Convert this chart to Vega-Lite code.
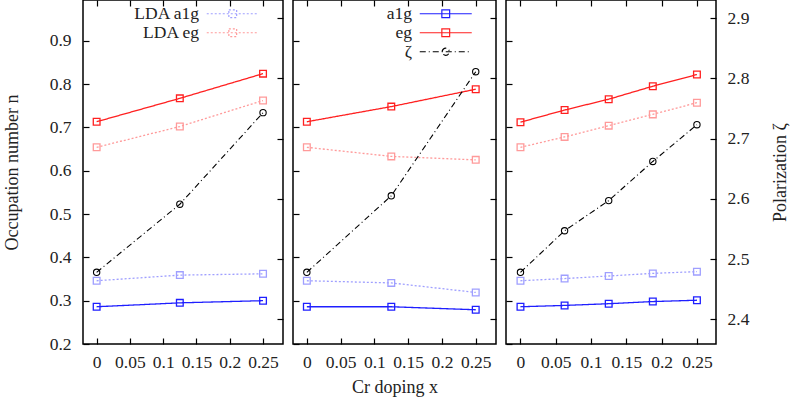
{
"$schema": "https://vega.github.io/schema/vega-lite/v6.json",
"padding": {"left": 2, "top": -2, "right": 2, "bottom": 0},
"bounds": "flush",
"datasets": {
"n": [
{"panel":1,"series":"a1g","x":0,"n":0.286},{"panel":1,"series":"a1g","x":0.125,"n":0.295},{"panel":1,"series":"a1g","x":0.25,"n":0.300},
{"panel":1,"series":"eg","x":0,"n":0.713},{"panel":1,"series":"eg","x":0.125,"n":0.767},{"panel":1,"series":"eg","x":0.25,"n":0.824},
{"panel":1,"series":"LDA a1g","x":0,"n":0.346},{"panel":1,"series":"LDA a1g","x":0.125,"n":0.359},{"panel":1,"series":"LDA a1g","x":0.25,"n":0.362},
{"panel":1,"series":"LDA eg","x":0,"n":0.654},{"panel":1,"series":"LDA eg","x":0.125,"n":0.702},{"panel":1,"series":"LDA eg","x":0.25,"n":0.762},
{"panel":2,"series":"a1g","x":0,"n":0.286},{"panel":2,"series":"a1g","x":0.125,"n":0.286},{"panel":2,"series":"a1g","x":0.25,"n":0.279},
{"panel":2,"series":"eg","x":0,"n":0.713},{"panel":2,"series":"eg","x":0.125,"n":0.748},{"panel":2,"series":"eg","x":0.25,"n":0.788},
{"panel":2,"series":"LDA a1g","x":0,"n":0.346},{"panel":2,"series":"LDA a1g","x":0.125,"n":0.341},{"panel":2,"series":"LDA a1g","x":0.25,"n":0.319},
{"panel":2,"series":"LDA eg","x":0,"n":0.654},{"panel":2,"series":"LDA eg","x":0.125,"n":0.633},{"panel":2,"series":"LDA eg","x":0.25,"n":0.625},
{"panel":3,"series":"a1g","x":0,"n":0.286},{"panel":3,"series":"a1g","x":0.0625,"n":0.289},{"panel":3,"series":"a1g","x":0.125,"n":0.293},{"panel":3,"series":"a1g","x":0.1875,"n":0.298},{"panel":3,"series":"a1g","x":0.25,"n":0.301},
{"panel":3,"series":"eg","x":0,"n":0.712},{"panel":3,"series":"eg","x":0.0625,"n":0.740},{"panel":3,"series":"eg","x":0.125,"n":0.765},{"panel":3,"series":"eg","x":0.1875,"n":0.795},{"panel":3,"series":"eg","x":0.25,"n":0.822},
{"panel":3,"series":"LDA a1g","x":0,"n":0.346},{"panel":3,"series":"LDA a1g","x":0.0625,"n":0.351},{"panel":3,"series":"LDA a1g","x":0.125,"n":0.357},{"panel":3,"series":"LDA a1g","x":0.1875,"n":0.363},{"panel":3,"series":"LDA a1g","x":0.25,"n":0.367},
{"panel":3,"series":"LDA eg","x":0,"n":0.654},{"panel":3,"series":"LDA eg","x":0.0625,"n":0.678},{"panel":3,"series":"LDA eg","x":0.125,"n":0.704},{"panel":3,"series":"LDA eg","x":0.1875,"n":0.730},{"panel":3,"series":"LDA eg","x":0.25,"n":0.757}
],
"z": [
{"panel":1,"series":"ζ","x":0,"zeta":2.478},{"panel":1,"series":"ζ","x":0.125,"zeta":2.591},{"panel":1,"series":"ζ","x":0.25,"zeta":2.743},
{"panel":2,"series":"ζ","x":0,"zeta":2.478},{"panel":2,"series":"ζ","x":0.125,"zeta":2.605},{"panel":2,"series":"ζ","x":0.25,"zeta":2.811},
{"panel":3,"series":"ζ","x":0,"zeta":2.478},{"panel":3,"series":"ζ","x":0.0625,"zeta":2.547},{"panel":3,"series":"ζ","x":0.125,"zeta":2.597},{"panel":3,"series":"ζ","x":0.1875,"zeta":2.662},{"panel":3,"series":"ζ","x":0.25,"zeta":2.723}
]
},
"config": {
"font": "Liberation Serif",
"view": {"stroke": "#000000", "strokeWidth": 1.5},
"axis": {"domain": false, "grid": false, "tickColor": "#000000", "tickWidth": 1.2, "tickSize": -6, "labelFont": "Liberation Serif", "labelFontSize": 17.5, "labelColor": "#222222", "titleFont": "Liberation Serif", "titleFontSize": 18, "titleFontWeight": "normal", "titleColor": "#222222"},
"legend": {"labelFont": "Liberation Serif", "labelFontSize": 17.5, "labelColor": "#222222", "orient": "top-right", "offset": 5, "padding": 0, "symbolSize": 169, "symbolStrokeWidth": 1.2, "labelAlign": "right", "labelOffset": -42.5, "rowPadding": 0, "symbolType": "M-4,0H4M-0.6,-0.6H0.6V0.6H-0.6ZM6.5,0"}
},
"spacing": 10,
"resolve": {"scale": {"x": "independent", "y": "independent", "color": "independent", "strokeDash": "independent"}, "legend": {"color": "independent", "strokeDash": "independent"}},
"hconcat": [
{
"width": 200, "height": 344,
"layer": [
{
"data": {"name": "n"},
"transform": [{"filter": "datum.panel == 1"}],
"encoding": {
"x": {"field": "x", "type": "quantitative", "scale": {"domain": [-0.0205, 0.28], "nice": false, "zero": false}, "axis": {"orient": "bottom", "values": [0, 0.05, 0.1, 0.15, 0.2, 0.25], "format": "~g", "title": null, "labelPadding": 15}},
"y": {"field": "n", "type": "quantitative", "scale": {"domain": [0.2, 0.994], "nice": false, "zero": false}, "axis": {"orient": "left", "values": [0.2, 0.3, 0.4, 0.5, 0.6, 0.7, 0.8, 0.9], "title": "Occupation number n", "labelPadding": 18, "titlePadding": 28}},
"color": {"field": "series", "type": "nominal", "scale": {"domain": ["a1g", "eg", "ζ", "LDA a1g", "LDA eg"], "range": ["#1f1fff", "#ff2020", "#000000", "#9f9fff", "#ff9a9a"]},
"legend": {"values": ["LDA a1g", "LDA eg"], "title": null, "encode": {"symbols": {"update": {"fill": {"value": "transparent"}}}}}}
},
"layer": [
{"mark": {"type": "line", "strokeWidth": 1.3}, "encoding": {"strokeDash": {"field": "series", "type": "nominal", "scale": {"domain": ["a1g", "eg", "ζ", "LDA a1g", "LDA eg"], "range": [[1, 0], [1, 0], [6, 3, 1, 3], [2, 2], [2, 2]]}, "legend": {"values": ["LDA a1g", "LDA eg"], "title": null, "encode": {"symbols": {"update": {"fill": {"value": "transparent"}}}}}}}},
{"mark": {"type": "point", "shape": "square", "filled": false, "size": 45, "strokeWidth": 1.3, "opacity": 1}}
]
},
{
"data": {"name": "z"},
"transform": [{"filter": "datum.panel == 1"}],
"encoding": {
"x": {"field": "x", "type": "quantitative", "scale": {"domain": [-0.0205, 0.28], "nice": false, "zero": false}, "axis": {"orient": "top", "values": [0, 0.05, 0.1, 0.15, 0.2, 0.25], "labels": false, "title": null}},
"y": {"field": "zeta", "type": "quantitative", "scale": {"domain": [2.359, 2.93], "nice": false, "zero": false}, "axis": {"orient": "right", "values": [2.4, 2.5, 2.6, 2.7, 2.8, 2.9], "labels": false, "title": null}},
"color": {"field": "series", "type": "nominal", "scale": {"domain": ["a1g", "eg", "ζ", "LDA a1g", "LDA eg"], "range": ["#1f1fff", "#ff2020", "#000000", "#9f9fff", "#ff9a9a"]}}
},
"layer": [
{"mark": {"type": "line", "strokeWidth": 1.1}, "encoding": {"strokeDash": {"field": "series", "type": "nominal", "scale": {"domain": ["a1g", "eg", "ζ", "LDA a1g", "LDA eg"], "range": [[1, 0], [1, 0], [6, 3, 1, 3], [2, 2], [2, 2]]}}}},
{"mark": {"type": "point", "shape": "circle", "filled": false, "size": 40, "strokeWidth": 1.1, "opacity": 1}}
]
}
],
"resolve": {"scale": {"y": "independent"}, "axis": {"x": "independent", "y": "independent"}}
},
{
"width": 203, "height": 344,
"layer": [
{
"data": {"name": "n"},
"transform": [{"filter": "datum.panel == 2"}],
"encoding": {
"x": {"field": "x", "type": "quantitative", "scale": {"domain": [-0.0205, 0.28], "nice": false, "zero": false}, "axis": {"orient": "bottom", "values": [0, 0.05, 0.1, 0.15, 0.2, 0.25], "format": "~g", "title": "Cr doping x", "labelPadding": 15, "titlePadding": 8}},
"y": {"field": "n", "type": "quantitative", "scale": {"domain": [0.2, 0.994], "nice": false, "zero": false}, "axis": {"orient": "left", "values": [0.2, 0.3, 0.4, 0.5, 0.6, 0.7, 0.8, 0.9], "labels": false, "title": null}},
"color": {"field": "series", "type": "nominal", "scale": {"domain": ["a1g", "eg", "ζ", "LDA a1g", "LDA eg"], "range": ["#1f1fff", "#ff2020", "#000000", "#9f9fff", "#ff9a9a"]},
"legend": {"values": ["a1g", "eg", "ζ"], "title": null, "encode": {"symbols": {"update": {"fill": {"value": "transparent"}, "shape": {"signal": "datum.value === 'ζ' ? 'M-4,0H4M-0.55,0A0.55,0.55 0 1,1 0.55,0A0.55,0.55 0 1,1 -0.55,0M6.5,0' : 'M-4,0H4M-0.6,-0.6H0.6V0.6H-0.6ZM6.5,0'"}}}}}}
},
"layer": [
{"mark": {"type": "line", "strokeWidth": 1.3}, "encoding": {"strokeDash": {"field": "series", "type": "nominal", "scale": {"domain": ["a1g", "eg", "ζ", "LDA a1g", "LDA eg"], "range": [[1, 0], [1, 0], [6, 3, 1, 3], [2, 2], [2, 2]]}, "legend": {"values": ["a1g", "eg", "ζ"], "title": null, "encode": {"symbols": {"update": {"fill": {"value": "transparent"}, "shape": {"signal": "datum.value === 'ζ' ? 'M-4,0H4M-0.55,0A0.55,0.55 0 1,1 0.55,0A0.55,0.55 0 1,1 -0.55,0M6.5,0' : 'M-4,0H4M-0.6,-0.6H0.6V0.6H-0.6ZM6.5,0'"}}}}}}}},
{"mark": {"type": "point", "shape": "square", "filled": false, "size": 45, "strokeWidth": 1.3, "opacity": 1}}
]
},
{
"data": {"name": "z"},
"transform": [{"filter": "datum.panel == 2"}],
"encoding": {
"x": {"field": "x", "type": "quantitative", "scale": {"domain": [-0.0205, 0.28], "nice": false, "zero": false}, "axis": {"orient": "top", "values": [0, 0.05, 0.1, 0.15, 0.2, 0.25], "labels": false, "title": null}},
"y": {"field": "zeta", "type": "quantitative", "scale": {"domain": [2.359, 2.93], "nice": false, "zero": false}, "axis": {"orient": "right", "values": [2.4, 2.5, 2.6, 2.7, 2.8, 2.9], "labels": false, "title": null}},
"color": {"field": "series", "type": "nominal", "scale": {"domain": ["a1g", "eg", "ζ", "LDA a1g", "LDA eg"], "range": ["#1f1fff", "#ff2020", "#000000", "#9f9fff", "#ff9a9a"]}}
},
"layer": [
{"mark": {"type": "line", "strokeWidth": 1.1}, "encoding": {"strokeDash": {"field": "series", "type": "nominal", "scale": {"domain": ["a1g", "eg", "ζ", "LDA a1g", "LDA eg"], "range": [[1, 0], [1, 0], [6, 3, 1, 3], [2, 2], [2, 2]]}}}},
{"mark": {"type": "point", "shape": "circle", "filled": false, "size": 40, "strokeWidth": 1.1, "opacity": 1}}
]
}
],
"resolve": {"scale": {"y": "independent"}, "axis": {"x": "independent", "y": "independent"}}
},
{
"width": 210, "height": 344,
"layer": [
{
"data": {"name": "n"},
"transform": [{"filter": "datum.panel == 3"}],
"encoding": {
"x": {"field": "x", "type": "quantitative", "scale": {"domain": [-0.0205, 0.277], "nice": false, "zero": false}, "axis": {"orient": "bottom", "values": [0, 0.05, 0.1, 0.15, 0.2, 0.25], "format": "~g", "title": null, "labelPadding": 15}},
"y": {"field": "n", "type": "quantitative", "scale": {"domain": [0.2, 0.994], "nice": false, "zero": false}, "axis": {"orient": "left", "values": [0.2, 0.3, 0.4, 0.5, 0.6, 0.7, 0.8, 0.9], "labels": false, "title": null}},
"color": {"field": "series", "type": "nominal", "scale": {"domain": ["a1g", "eg", "ζ", "LDA a1g", "LDA eg"], "range": ["#1f1fff", "#ff2020", "#000000", "#9f9fff", "#ff9a9a"]}, "legend": null}
},
"layer": [
{"mark": {"type": "line", "strokeWidth": 1.3}, "encoding": {"strokeDash": {"field": "series", "type": "nominal", "scale": {"domain": ["a1g", "eg", "ζ", "LDA a1g", "LDA eg"], "range": [[1, 0], [1, 0], [6, 3, 1, 3], [2, 2], [2, 2]]}, "legend": null}}},
{"mark": {"type": "point", "shape": "square", "filled": false, "size": 45, "strokeWidth": 1.3, "opacity": 1}}
]
},
{
"data": {"name": "z"},
"transform": [{"filter": "datum.panel == 3"}],
"encoding": {
"x": {"field": "x", "type": "quantitative", "scale": {"domain": [-0.0205, 0.277], "nice": false, "zero": false}, "axis": {"orient": "top", "values": [0, 0.05, 0.1, 0.15, 0.2, 0.25], "labels": false, "title": null}},
"y": {"field": "zeta", "type": "quantitative", "scale": {"domain": [2.359, 2.93], "nice": false, "zero": false}, "axis": {"orient": "right", "values": [2.4, 2.5, 2.6, 2.7, 2.8, 2.9], "title": "Polarization ζ", "titleAngle": 270, "labelPadding": 17, "titlePadding": 41}},
"color": {"field": "series", "type": "nominal", "scale": {"domain": ["a1g", "eg", "ζ", "LDA a1g", "LDA eg"], "range": ["#1f1fff", "#ff2020", "#000000", "#9f9fff", "#ff9a9a"]}, "legend": null}
},
"layer": [
{"mark": {"type": "line", "strokeWidth": 1.1}, "encoding": {"strokeDash": {"field": "series", "type": "nominal", "scale": {"domain": ["a1g", "eg", "ζ", "LDA a1g", "LDA eg"], "range": [[1, 0], [1, 0], [6, 3, 1, 3], [2, 2], [2, 2]]}, "legend": null}}},
{"mark": {"type": "point", "shape": "circle", "filled": false, "size": 40, "strokeWidth": 1.1, "opacity": 1}}
]
}
],
"resolve": {"scale": {"y": "independent"}, "axis": {"x": "independent", "y": "independent"}}
}
]
}
